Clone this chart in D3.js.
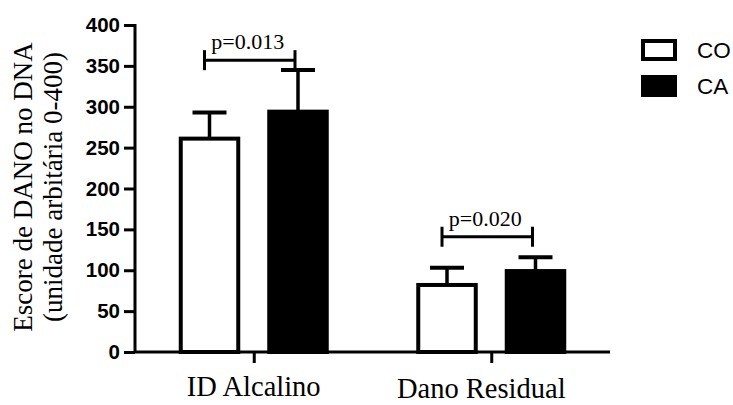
<!DOCTYPE html>
<html>
<head>
<meta charset="utf-8">
<script src="https://cdn.jsdelivr.net/npm/d3@7/dist/d3.min.js"></script>
<style>
  html, body { margin: 0; padding: 0; background: #fff; }
  svg { display: block; }
</style>
</head>
<body>
<div id="chart"></div>
<script>
// data
const categories = ['ID Alcalino', 'Dano Residual'];
const groups = ['CO', 'CA'];
const coMeans = [261, 82];
const coErrors = [32, 21];
const caMeans = [294, 99];
const caErrors = [51, 17];
const yTicks = [0, 50, 100, 150, 200, 250, 300, 350, 400];
const pLabels = ['p=0.013', 'p=0.020'];
const bracketLevels = [357, 141];

const width = 733;
const height = 405;
const plot = { left: 135, right: 610, top: 25, bottom: 352 };

const svg = d3.select('#chart')
  .append('svg')
  .attr('width', width)
  .attr('height', height);

const x = d3.scalePoint()
  .domain(categories)
  .range([plot.left, plot.right])
  .padding(0.5);

const xInner = d3.scaleBand()
  .domain(groups)
  .range([-75, 75])
  .paddingInner(0.305);

const y = d3.scaleLinear()
  .domain([0, 400])
  .range([plot.bottom, plot.top]);

const rows = [];
categories.forEach((c, i) => {
  rows.push({ cat: c, group: 'CO', mean: coMeans[i], err: coErrors[i] });
  rows.push({ cat: c, group: 'CA', mean: caMeans[i], err: caErrors[i] });
});

const bw = xInner.bandwidth();
const cx = d => x(d.cat) + xInner(d.group) + bw / 2;

// error bars (upper only)
svg.append('g').selectAll('g')
  .data(rows)
  .join('g')
  .each(function(d) {
    const g = d3.select(this);
    g.append('line')
      .attr('x1', cx(d)).attr('x2', cx(d))
      .attr('y1', y(d.mean)).attr('y2', y(d.mean + d.err))
      .attr('stroke', '#000').attr('stroke-width', 3.5);
    g.append('line')
      .attr('x1', cx(d) - 17).attr('x2', cx(d) + 17)
      .attr('y1', y(d.mean + d.err)).attr('y2', y(d.mean + d.err))
      .attr('stroke', '#000').attr('stroke-width', 4);
  });

// bars
svg.append('g').selectAll('rect')
  .data(rows)
  .join('rect')
  .attr('x', d => x(d.cat) + xInner(d.group) + 2)
  .attr('width', bw - 4)
  .attr('y', d => y(d.mean))
  .attr('height', d => y(0) - y(d.mean))
  .attr('fill', d => d.group === 'CA' ? '#000' : '#fff')
  .attr('stroke', '#000')
  .attr('stroke-width', 4);

// y axis
const yAxis = svg.append('g')
  .attr('transform', `translate(${plot.left},0)`)
  .call(d3.axisLeft(y).tickValues(yTicks).tickSize(11).tickPadding(4).tickSizeOuter(0));
yAxis.select('.domain').attr('stroke-width', 3).attr('d', `M0,${y(400) - 1}V${plot.bottom}`);
yAxis.selectAll('.tick line').attr('stroke-width', 3);
yAxis.selectAll('.tick text')
  .attr('font-family', '"Liberation Sans", Arial, sans-serif')
  .attr('font-weight', 'bold')
  .attr('font-size', 20.5)
  .attr('fill', '#000');

// x axis
const xAxis = svg.append('g')
  .attr('transform', `translate(0,${plot.bottom})`)
  .call(d3.axisBottom(x).tickSize(11).tickSizeOuter(0).tickFormat(''));
xAxis.select('.domain').attr('stroke-width', 3).attr('d', `M${plot.left - 1},0H${plot.right}`);
xAxis.selectAll('.tick line').attr('stroke-width', 3);

// category labels
svg.append('g').selectAll('text')
  .data(categories)
  .join('text')
  .attr('x', (d, i) => x(d) + (i === 1 ? -10 : 0))
  .attr('y', (d, i) => i === 1 ? 398 : 396)
  .attr('text-anchor', 'middle')
  .attr('font-family', '"Liberation Serif", "Times New Roman", serif')
  .attr('font-size', 28.5)
  .attr('fill', '#000')
  .text(d => d);

// significance brackets
categories.forEach((c, i) => {
  const x1 = x(c) + xInner('CO') + bw / 2 - 5;
  const x2 = x(c) + xInner('CA') + bw / 2 - 3;
  const by = y(bracketLevels[i]);
  const g = svg.append('g').attr('stroke', '#000').attr('stroke-width', 3);
  g.append('line').attr('x1', x1).attr('x2', x2).attr('y1', by).attr('y2', by);
  g.append('line').attr('x1', x1).attr('x2', x1).attr('y1', by - 10).attr('y2', by + 10);
  g.append('line').attr('x1', x2).attr('x2', x2).attr('y1', by - 10).attr('y2', by + 10);
  svg.append('text')
    .attr('x', (x1 + x2) / 2 - 2)
    .attr('y', by - 11)
    .attr('text-anchor', 'middle')
    .attr('font-family', '"Liberation Serif", "Times New Roman", serif')
    .attr('font-size', 22)
    .attr('fill', '#000')
    .text(pLabels[i]);
});

// y axis title
const yTitle = svg.append('text')
  .attr('transform', 'translate(32,187) rotate(-90)')
  .attr('text-anchor', 'middle')
  .attr('font-family', '"Liberation Serif", "Times New Roman", serif')
  .attr('font-size', 27)
  .attr('fill', '#000');
yTitle.append('tspan').attr('x', 0).attr('y', 0).text('Escore de DANO no DNA');
yTitle.append('tspan').attr('x', 0).attr('y', 30).text('(unidade arbitária 0-400)');

// legend
const legend = svg.append('g').selectAll('g')
  .data(groups)
  .join('g')
  .attr('transform', (d, i) => `translate(641,${39 + i * 36})`);
legend.append('rect')
  .attr('x', 2).attr('y', 2)
  .attr('width', 32).attr('height', 18)
  .attr('fill', d => d === 'CA' ? '#000' : '#fff')
  .attr('stroke', '#000')
  .attr('stroke-width', 4);
legend.append('text')
  .attr('x', 56)
  .attr('y', 11)
  .attr('dy', '0.36em')
  .attr('font-family', '"Liberation Sans", Arial, sans-serif')
  .attr('font-size', 22.5)
  .attr('fill', '#000')
  .text(d => d);
</script>
</body>
</html>
